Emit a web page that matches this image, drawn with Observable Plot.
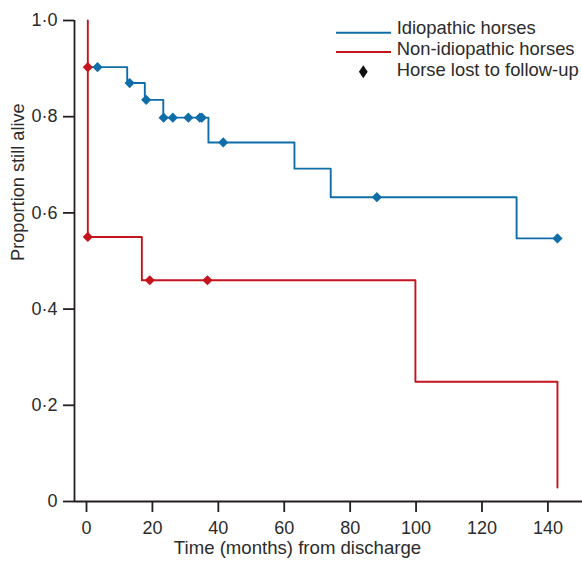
<!DOCTYPE html>
<html>
<head>
<meta charset="utf-8">
<script src="https://cdn.jsdelivr.net/npm/d3@7"></script>
<script src="https://cdn.jsdelivr.net/npm/@observablehq/plot@0.6"></script>
<style>
  html, body { margin: 0; padding: 0; background: #fff; }
  #wrap { position: relative; width: 582px; height: 561px; }
  #legend { position: absolute; left: 0; top: 0; pointer-events: none; }
  #legend text { font-family: "Liberation Sans", Arial, sans-serif; font-size: 18.4px; fill: #2b2b2b; }
</style>
</head>
<body>
<div id="wrap"></div>
<script>
// ---- Data ----
const seriesNames = ["Idiopathic horses", "Non-idiopathic horses"];
const legendCensorLabel = "Horse lost to follow-up";

// Idiopathic horses: Kaplan–Meier step curve (time in months, proportion alive)
const idioTimes  = [0.4, 12.35, 17.7, 23.3, 37.0, 63.1, 74.1, 130.5, 142.9];
const idioLevels = [0.903, 0.870, 0.835, 0.798, 0.7465, 0.692, 0.6326, 0.547, 0.547];
// Idiopathic horses: censored (lost to follow-up)
const idioCensorTimes  = [3.34, 13.1, 18.1, 23.4, 26.2, 30.9, 34.4, 35.0, 41.5, 88.1, 142.9];
const idioCensorLevels = [0.903, 0.870, 0.835, 0.798, 0.798, 0.798, 0.798, 0.798, 0.7465, 0.6326, 0.547];

// Non-idiopathic horses: step curve
const nonTimes  = [0.4, 0.4, 16.8, 99.8, 142.9, 142.9];
const nonLevels = [1.0, 0.55, 0.46, 0.249, 0.249, 0.029];
// Non-idiopathic horses: censored
const nonCensorTimes  = [0.4, 0.4, 19.2, 36.7];
const nonCensorLevels = [0.903, 0.55, 0.46, 0.46];

const xTicks = [0, 20, 40, 60, 80, 100, 120, 140];
const yTicks = [0, 0.2, 0.4, 0.6, 0.8, 1.0];
const xLabel = "Time (months) from discharge";
const yLabel = "Proportion still alive";

// ---- Build tables ----
const toRows = (ts, ys) => ts.map((t, i) => ({t, y: ys[i]}));
const idio = toRows(idioTimes, idioLevels);
const idioC = toRows(idioCensorTimes, idioCensorLevels);
const non = toRows(nonTimes, nonLevels);
const nonC = toRows(nonCensorTimes, nonCensorLevels);

const BLUE = "#0f6ea9";
const RED = "#c4151c";
const AXIS = "#231f20";
const xDomain = [-3.64, 150.5];
const fmtY = d => d === 0 ? "0" : d.toFixed(1).replace(".", "\u00B7");

const chart = Plot.plot({
  width: 582,
  height: 561,
  marginLeft: 74,
  marginRight: 0,
  marginTop: 20,
  marginBottom: 60,
  x: {domain: xDomain},
  y: {domain: [0, 1]},
  style: {fontFamily: "'Liberation Sans', Arial, sans-serif", fontSize: "18px", color: "#2b2b2b", background: "#fff", overflow: "visible"},
  marks: [
    Plot.axisY({ticks: yTicks, tickSize: 11, tickPadding: 6, tickFormat: fmtY, label: null, stroke: AXIS, strokeWidth: 1.8}),
    Plot.axisX({ticks: xTicks, tickSize: 11, tickPadding: 9, label: null, stroke: AXIS, strokeWidth: 1.8}),
    Plot.ruleX([xDomain[0]], {y1: 0, y2: 1, stroke: AXIS, strokeWidth: 1.8}),
    Plot.ruleY([0], {stroke: AXIS, strokeWidth: 1.8}),
    Plot.line(idio, {x: "t", y: "y", curve: "step-after", stroke: BLUE, strokeWidth: 1.9}),
    Plot.dot(idioC, {x: "t", y: "y", symbol: "diamond2", r: 4.6, fill: BLUE, stroke: "none"}),
    Plot.line(non, {x: "t", y: "y", curve: "step-after", stroke: RED, strokeWidth: 1.9}),
    Plot.dot(nonC, {x: "t", y: "y", symbol: "diamond2", r: 4.6, fill: RED, stroke: "none"}),
    Plot.text([xLabel], {frameAnchor: "bottom", dx: -31, dy: 52, fontSize: 18.6, fill: "#2b2b2b"}),
    Plot.text([yLabel], {frameAnchor: "left", rotate: -90, dx: -56, fontSize: 18.2, fill: "#2b2b2b"})
  ]
});

const wrap = document.getElementById("wrap");
wrap.appendChild(chart);

// ---- Legend (overlay) ----
const ns = "http://www.w3.org/2000/svg";
const leg = document.createElementNS(ns, "svg");
leg.setAttribute("id", "legend");
leg.setAttribute("width", 582);
leg.setAttribute("height", 100);
const items = [
  {label: seriesNames[0], kind: "line", color: BLUE, sy: 32.7, ty: 34},
  {label: seriesNames[1], kind: "line", color: RED, sy: 52, ty: 55.3},
  {label: legendCensorLabel, kind: "diamond", color: "#111", sy: 71.7, ty: 76}
];
for (const it of items) {
  if (it.kind === "line") {
    const l = document.createElementNS(ns, "line");
    l.setAttribute("x1", 336); l.setAttribute("x2", 391);
    l.setAttribute("y1", it.sy); l.setAttribute("y2", it.sy);
    l.setAttribute("stroke", it.color); l.setAttribute("stroke-width", 2);
    leg.appendChild(l);
  } else {
    const p = document.createElementNS(ns, "path");
    const cx = 363.3, cy = it.sy;
    p.setAttribute("d", `M${cx},${cy-6.5}L${cx+4.4},${cy}L${cx},${cy+6.5}L${cx-4.4},${cy}Z`);
    p.setAttribute("fill", it.color);
    leg.appendChild(p);
  }
  const t = document.createElementNS(ns, "text");
  t.setAttribute("x", 396.7); t.setAttribute("y", it.ty);
  t.textContent = it.label;
  leg.appendChild(t);
}
wrap.appendChild(leg);
</script>
</body>
</html>
